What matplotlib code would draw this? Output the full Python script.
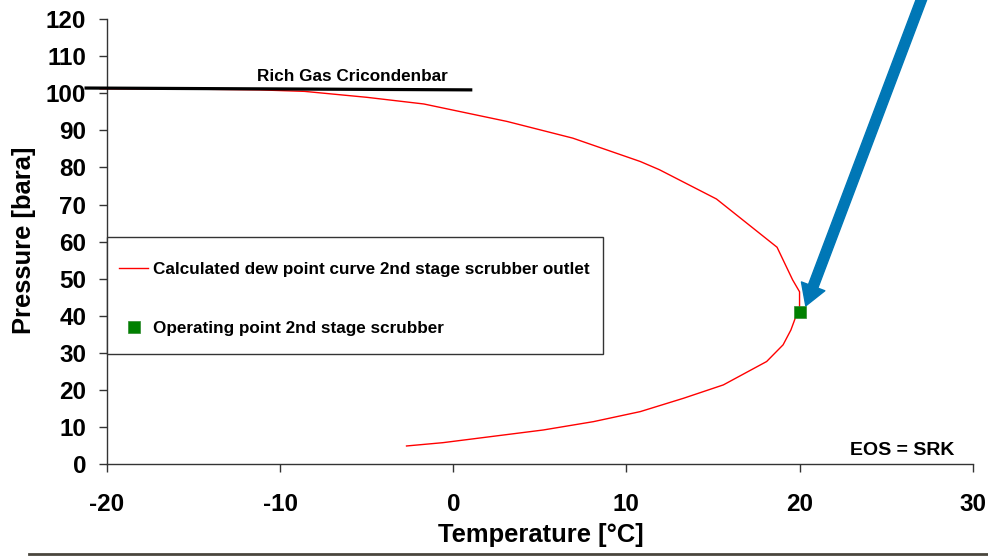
import matplotlib
matplotlib.use("Agg")
import matplotlib.pyplot as plt
from matplotlib.lines import Line2D
from matplotlib.patches import Rectangle

plt.rcParams['font.family'] = ['Liberation Sans', 'DejaVu Sans']
plt.rcParams['font.weight'] = 'bold'
plt.rcParams['axes.unicode_minus'] = False

# dew point curve of the 2nd stage scrubber outlet gas (T in degC, P in bara)
dew_T = [-20.4, -15.0, -11.2, -8.6, -5.0, -1.7, 3.1, 6.9, 10.8, 11.9, 15.2,
         18.7, 19.6, 20.0, 20.0, 19.5, 19.05, 18.1, 15.6, 13.3, 10.8, 8.1,
         5.2, -0.6, -2.7]
dew_P = [101.2, 101.1, 100.9, 100.5, 98.9, 97.1, 92.4, 87.9, 81.6, 79.4, 71.5,
         58.5, 49.7, 46.5, 42.5, 36.2, 32.2, 27.7, 21.4, 17.8, 14.2, 11.5,
         9.25, 5.83, 4.94]

# operating point
op_T = [20.0]
op_P = [41.0]

# rich gas cricondenbar line
cric_T = [-21.3, 1.1]
cric_P = [101.4, 100.9]

fig = plt.figure(figsize=(9.88, 5.59), dpi=100)
ax = fig.add_axes([0.1083, 0.1694, 0.8762, 0.7966])

ax.plot(dew_T, dew_P, color='#FF0000', lw=1.0, clip_on=False, zorder=3,
        label='Calculated dew point curve 2nd stage scrubber outlet')
ax.plot(op_T, op_P, ls='none', marker='s', ms=8, color='#008000', mec='#2e8b2e',
        mew=0.5, zorder=5, label='Operating point 2nd stage scrubber')
ax.plot(cric_T, cric_P, color='black', lw=2.3, clip_on=False, zorder=4,
        solid_capstyle='butt')

ax.text(-11.34, 103.2, 'Rich Gas Cricondenbar', fontsize=12.3, fontweight='bold',
        ha='left', va='baseline')
ax.text(22.94, 2.5, 'EOS = SRK', fontsize=14, fontweight='bold',
        ha='left', va='baseline')

# arrow pointing at the operating point
ax.annotate('', xy=(20.36, 42.7), xytext=(27.37, 129.3), annotation_clip=False,
            arrowprops=dict(arrowstyle='simple,head_width=0.9,head_length=0.75,tail_width=0.36',
                            mutation_scale=20, color='#0077B6', shrinkA=0, shrinkB=0))

ax.set_xlim(-20, 30)
ax.set_ylim(0, 120)
ax.set_xticks(range(-20, 31, 10))
ax.set_yticks(range(0, 121, 10))
for s in ['top', 'right']:
    ax.spines[s].set_visible(False)
for s in ['left', 'bottom']:
    ax.spines[s].set_color('#333333')
    ax.spines[s].set_linewidth(1.0)
ax.tick_params(axis='both', direction='out', length=6, width=1.0, color='#333333',
               labelsize=17.5)
ax.tick_params(axis='x', pad=15)
ax.tick_params(axis='y', pad=9)
for lbl in ax.get_xticklabels() + ax.get_yticklabels():
    lbl.set_fontweight('bold')

ax.set_xlabel('Temperature [°C]', fontsize=18.4, fontweight='bold')
ax.set_ylabel('Pressure [bara]', fontsize=18.4, fontweight='bold')
ax.xaxis.set_label_coords(0.501, -0.159)
ax.xaxis.label.set_va('center')
ax.yaxis.set_label_coords(-0.0959, 0.502)
ax.yaxis.label.set_va('center')
ax.yaxis.label.set_ha('center')

# legend box: plain rectangle frame with the legend entries placed inside it
ax.add_patch(Rectangle((0.0, 0.2467), 0.5726, 0.2636, transform=ax.transAxes,
                       facecolor='white', edgecolor='#333333', lw=1.0,
                       zorder=6, clip_on=False))
leg = ax.legend(loc='upper left', bbox_to_anchor=(0.01386, 0.4546), borderaxespad=0,
                prop={'size': 12.3, 'weight': 'bold'}, frameon=False,
                borderpad=0, labelspacing=2.6,
                handlelength=1.7, handletextpad=0.3, markerscale=1.0)
leg.set_zorder(7)

# rule along the bottom of the figure
fig.add_artist(Line2D([29 / 988, 1.0], [0.0098, 0.0098], color='#4a463d', lw=2.0))

fig.savefig('out.png', dpi=100)
